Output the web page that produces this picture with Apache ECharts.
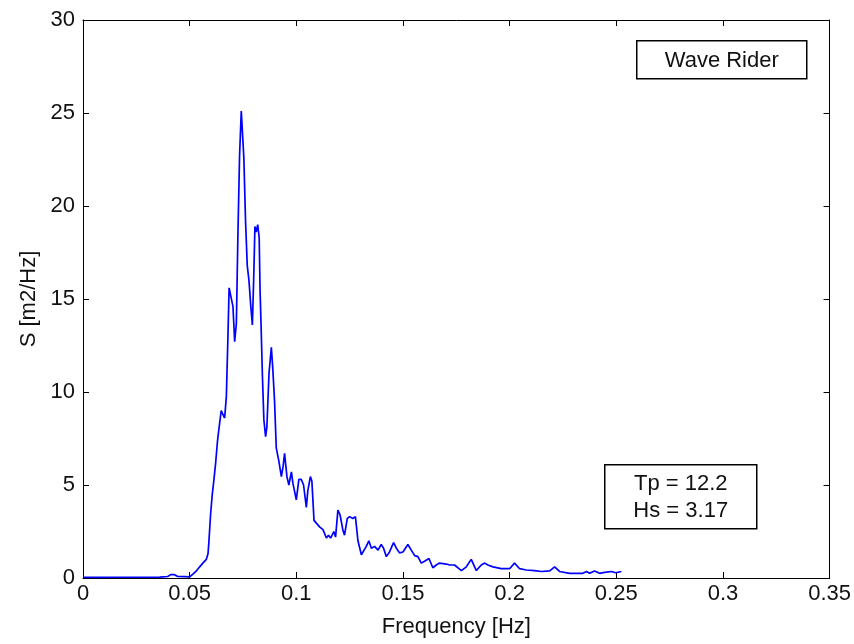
<!DOCTYPE html>
<html>
<head>
<meta charset="utf-8">
<script src="https://cdn.jsdelivr.net/npm/echarts@6/dist/echarts.min.js"></script>
<style>
html,body{margin:0;padding:0;background:#fff;}
#chart{width:854px;height:644px;}
</style>
</head>
<body>
<div id="chart"></div>
<script>
// Frequency [Hz]
var freq = [0, 0.0078, 0.0172, 0.0265, 0.0359, 0.0397, 0.0411, 0.0429, 0.0444, 0.0476,
  0.0500, 0.0514, 0.0533, 0.0547, 0.0562, 0.0578, 0.0586, 0.0590, 0.0598, 0.0606,
  0.0614, 0.0622, 0.0630, 0.0637, 0.0648, 0.0656, 0.0664, 0.0672, 0.0679, 0.0685,
  0.0692, 0.0703, 0.0711, 0.0719, 0.0726, 0.0734, 0.0742, 0.0750, 0.0754, 0.0762,
  0.0770, 0.0778, 0.0786, 0.0794, 0.0800, 0.0806, 0.0812, 0.0819, 0.0826, 0.0830,
  0.0835, 0.0841, 0.0848, 0.0856, 0.0862, 0.0872, 0.0883, 0.0890, 0.0898, 0.0906,
  0.0918, 0.0930, 0.0938, 0.0945, 0.0956, 0.0965, 0.0977, 0.0984, 0.1000, 0.1012,
  0.1023, 0.1034, 0.1047, 0.1054, 0.1066, 0.1073, 0.1083, 0.1094, 0.1109, 0.1125,
  0.1141, 0.1151, 0.1161, 0.1176, 0.1184, 0.1195, 0.1205, 0.1218, 0.1226, 0.1239,
  0.1250, 0.1265, 0.1277, 0.1289, 0.1305, 0.1312, 0.1328, 0.1340, 0.1352, 0.1367,
  0.1383, 0.1398, 0.1409, 0.1422, 0.1437, 0.1456, 0.1469, 0.1484, 0.1500, 0.1523,
  0.1539, 0.1555, 0.1570, 0.1586, 0.1601, 0.1622, 0.1640, 0.1656, 0.1672, 0.1703,
  0.1719, 0.1742, 0.1774, 0.1797, 0.1820, 0.1844, 0.1867, 0.1883, 0.1898, 0.1922,
  0.1961, 0.2000, 0.2023, 0.2047, 0.2078, 0.2117, 0.2149, 0.2188, 0.2211, 0.2234,
  0.2281, 0.2344, 0.2360, 0.2375, 0.2398, 0.2422, 0.2445, 0.2477, 0.2497, 0.2524];

// Spectral density S [m2/Hz]
var spec = [0.03, 0.03, 0.04, 0.04, 0.05, 0.08, 0.18, 0.18, 0.08, 0.07,
  0.06, 0.2, 0.4, 0.6, 0.8, 1.0, 1.3, 1.9, 3.4, 4.5,
  5.3, 6.2, 7.3, 8.0, 9.0, 9.1, 8.6, 9.75, 12.8, 15.6,
  15.6, 14.6, 12.7, 13.7, 18.3, 22.7, 25.1, 25.1, 22.6, 19.2,
  16.8, 16.0, 14.7, 13.6, 16.0, 18.9, 18.6, 19.0, 18.3, 15.5,
  13.5, 10.9, 8.5, 7.6, 8.1, 11.0, 12.4, 11.2, 9.5, 7.0,
  6.3, 5.45, 6.0, 6.7, 5.45, 5.0, 5.7, 5.1, 4.2, 5.3,
  5.3, 5.0, 3.8, 4.7, 5.45, 5.2, 3.1, 2.95, 2.75, 2.6,
  2.15, 2.3, 2.15, 2.5, 2.2, 3.65, 3.4, 2.6, 2.3, 3.2,
  3.3, 3.2, 3.3, 2.0, 1.25, 1.2, 1.7, 2.0, 1.6, 1.7,
  1.5, 1.8, 1.6, 1.15, 1.4, 1.9, 1.6, 1.35, 1.4, 1.8,
  1.5, 1.2, 1.15, 0.8, 0.9, 1.05, 0.55, 0.7, 0.8, 0.75,
  0.7, 0.7, 0.4, 0.6, 1.0, 0.4, 0.7, 0.8, 0.7, 0.6,
  0.5, 0.5, 0.8, 0.5, 0.43, 0.4, 0.35, 0.38, 0.6, 0.35,
  0.25, 0.25, 0.35, 0.25, 0.38, 0.25, 0.3, 0.35, 0.28, 0.35];

var legendText = 'Wave Rider';
var infoLines = ['Tp = 12.2', 'Hs = 3.17'];
var xName = 'Frequency [Hz]';
var yName = 'S [m2/Hz]';

var FONT = '"Liberation Sans", Arial, sans-serif';
var FS = 22;
var TXT = '#111';

var chart = echarts.init(document.getElementById('chart'), null, {renderer: 'canvas'});

var pts = freq.map(function (f, i) { return [f, spec[i]]; });

var axisCommon = {
  min: 0,
  axisLine: {show: true, onZero: false, lineStyle: {color: '#000', width: 1}},
  axisTick: {show: true, inside: true, length: 6, lineStyle: {color: '#000', width: 1}},
  splitLine: {show: false}
};

chart.setOption({
  animation: false,
  backgroundColor: '#fff',
  grid: {left: 83, right: 24, top: 20, bottom: 66, containLabel: false},
  xAxis: [
    Object.assign({}, axisCommon, {
      type: 'value', position: 'bottom', max: 0.35, interval: 0.05,
      name: xName, nameLocation: 'middle', nameGap: 38,
      nameTextStyle: {color: TXT, fontFamily: FONT, fontSize: FS},
      axisLabel: {color: TXT, fontFamily: FONT, fontSize: FS, margin: 5}
    }),
    Object.assign({}, axisCommon, {
      type: 'value', position: 'top', max: 0.35, interval: 0.05,
      axisLabel: {show: false}
    })
  ],
  yAxis: [
    Object.assign({}, axisCommon, {
      type: 'value', position: 'left', max: 30, interval: 5,
      name: yName, nameLocation: 'middle', nameGap: 42, nameRotate: 90,
      nameTextStyle: {color: TXT, fontFamily: FONT, fontSize: FS},
      axisLabel: {color: TXT, fontFamily: FONT, fontSize: FS, margin: 8}
    }),
    Object.assign({}, axisCommon, {
      type: 'value', position: 'right', max: 30, interval: 5,
      axisLabel: {show: false}
    })
  ],
  series: [{
    type: 'line',
    xAxisIndex: 0,
    yAxisIndex: 0,
    data: pts,
    showSymbol: false,
    symbol: 'none',
    lineStyle: {color: '#0000ff', width: 1.7},
    itemStyle: {color: '#0000ff'}
  }],
  graphic: [
    {
      type: 'group', left: 636, top: 40,
      children: [
        {type: 'rect', shape: {x: 0, y: 0, width: 170, height: 38},
         style: {fill: '#fff', stroke: '#000', lineWidth: 1.5}},
        {type: 'text', x: 85, y: 20,
         style: {text: legendText, fill: TXT, font: FS + 'px ' + FONT,
                 textAlign: 'center', textVerticalAlign: 'middle'}}
      ]
    },
    {
      type: 'group', left: 604, top: 464,
      children: [
        {type: 'rect', shape: {x: 0, y: 0, width: 152, height: 64},
         style: {fill: '#fff', stroke: '#000', lineWidth: 1.5}},
        {type: 'text', x: 76, y: 19,
         style: {text: infoLines[0], fill: TXT, font: FS + 'px ' + FONT,
                 textAlign: 'center', textVerticalAlign: 'middle'}},
        {type: 'text', x: 76, y: 46,
         style: {text: infoLines[1], fill: TXT, font: FS + 'px ' + FONT,
                 textAlign: 'center', textVerticalAlign: 'middle'}}
      ]
    }
  ]
});
</script>
</body>
</html>
